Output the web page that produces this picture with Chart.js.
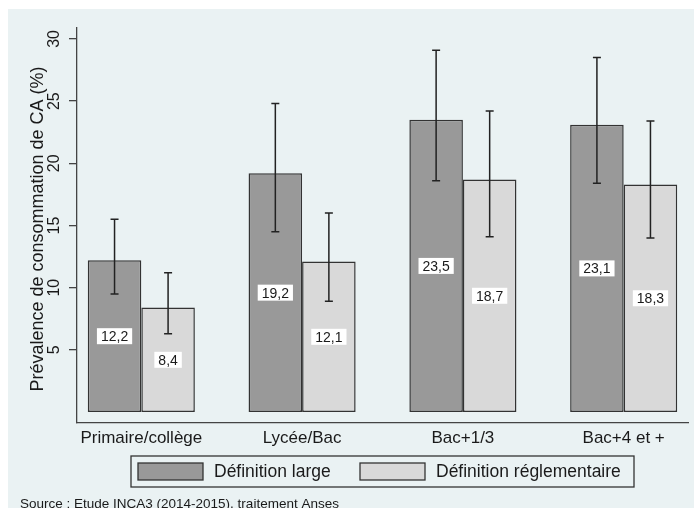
<!DOCTYPE html>
<html>
<head>
<meta charset="utf-8">
<script src="https://cdn.jsdelivr.net/npm/chart.js@4"></script>
<style>
  html, body { margin: 0; padding: 0; background: #fff; }
  #wrap { width: 694px; height: 508px; }
</style>
</head>
<body>
<div id="wrap"><canvas id="chart" width="694" height="508"></canvas></div>
<script>
// Données
const categories = ['Primaire/collège', 'Lycée/Bac', 'Bac+1/3', 'Bac+4 et +'];
const largeValues = [12.2, 19.2, 23.5, 23.1];
const largeLow = [9.5, 14.5, 18.6, 18.4];
const largeHigh = [15.5, 24.8, 29.1, 28.5];
const reglValues = [8.4, 12.1, 18.7, 18.3];
const reglLow = [6.3, 8.9, 14.1, 14.0];
const reglHigh = [11.2, 16.0, 24.2, 23.4];
const yTicks = [5, 10, 15, 20, 25, 30];
const seriesNames = ['Définition large', 'Définition réglementaire'];
const sourceText = 'Source : Etude INCA3 (2014-2015), traitement Anses';

const BG = '#eaf2f3';
const FONT = "'Liberation Sans', Arial, sans-serif";

const toPoints = vals => vals.map((v, i) => ({ x: i + 1, y: v }));

// Fond, barres d'erreur, étiquettes, légende
const decorPlugin = {
    id: 'decor',
    beforeDraw(chart) {
        const ctx = chart.ctx;
        ctx.save();
        ctx.fillStyle = '#fff';
        ctx.fillRect(0, 0, chart.width, chart.height);
        ctx.fillStyle = BG;
        ctx.fillRect(8, 9, chart.width - 8, chart.height - 9);
        ctx.restore();
    },
    afterDatasetsDraw(chart) {
        const ctx = chart.ctx;
        const y = chart.scales.y;
        const lows = [largeLow, reglLow];
        const highs = [largeHigh, reglHigh];
        ctx.save();
        // barres d'erreur
        chart.data.datasets.forEach((ds, d) => {
            chart.getDatasetMeta(d).data.forEach((bar, i) => {
                const yl = y.getPixelForValue(lows[d][i]);
                const yh = y.getPixelForValue(highs[d][i]);
                ctx.strokeStyle = '#222';
                ctx.lineWidth = 1.5;
                ctx.beginPath();
                ctx.moveTo(bar.x, yl); ctx.lineTo(bar.x, yh);
                ctx.moveTo(bar.x - 4, yl); ctx.lineTo(bar.x + 4, yl);
                ctx.moveTo(bar.x - 4, yh); ctx.lineTo(bar.x + 4, yh);
                ctx.stroke();
            });
        });
        // étiquettes de valeurs
        ctx.font = '14px ' + FONT;
        ctx.textAlign = 'center';
        ctx.textBaseline = 'middle';
        chart.data.datasets.forEach((ds, d) => {
            chart.getDatasetMeta(d).data.forEach((bar, i) => {
                const v = ds.data[i].y;
                const txt = v.toFixed(1).replace('.', ',');
                const cy = y.getPixelForValue(v / 2);
                const w = ctx.measureText(txt).width + 8;
                ctx.fillStyle = '#fff';
                ctx.fillRect(bar.x - w / 2, cy - 8, w, 16);
                ctx.fillStyle = '#1a1a1a';
                ctx.fillText(txt, bar.x, cy + 1);
            });
        });
        ctx.restore();
    },
    afterDraw(chart) {
        const ctx = chart.ctx;
        const y = chart.scales.y;
        ctx.save();
        // graduations de l'axe Y (texte vertical)
        ctx.fillStyle = '#1a1a1a';
        ctx.font = '16px ' + FONT;
        ctx.textAlign = 'center';
        ctx.textBaseline = 'middle';
        yTicks.forEach(t => {
            ctx.save();
            ctx.translate(55, y.getPixelForValue(t));
            ctx.rotate(-Math.PI / 2);
            ctx.fillText(String(t), 0, 0);
            ctx.restore();
        });
        // titre de l'axe Y
        ctx.save();
        ctx.font = '18px ' + FONT;
        ctx.translate(38, 229);
        ctx.rotate(-Math.PI / 2);
        ctx.fillText('Prévalence de consommation de CA (%)', 0, 0);
        ctx.restore();

        // légende encadrée
        ctx.strokeStyle = '#333';
        ctx.lineWidth = 1.3;
        ctx.fillStyle = BG;
        ctx.fillRect(131, 456, 503, 31);
        ctx.strokeRect(131, 456, 503, 31);
        const swX = [138, 360];
        ctx.font = '17.5px ' + FONT;
        ctx.textAlign = 'left';
        chart.data.datasets.forEach((ds, d) => {
            ctx.fillStyle = ds.backgroundColor;
            ctx.fillRect(swX[d], 463, 65, 17);
            ctx.strokeStyle = '#333';
            ctx.strokeRect(swX[d], 463, 65, 17);
            ctx.fillStyle = '#1a1a1a';
            ctx.fillText(seriesNames[d], swX[d] + 76, 472);
        });

        // source
        ctx.font = '13.5px ' + FONT;
        ctx.fillStyle = '#1a1a1a';
        ctx.textBaseline = 'alphabetic';
        ctx.fillText(sourceText, 20, 508);
        ctx.restore();
    }
};

const ctx = document.getElementById('chart').getContext('2d');
const chart = new Chart(ctx, {
    type: 'bar',
    data: {
        datasets: [
            {
                label: seriesNames[0],
                data: toPoints(largeValues),
                backgroundColor: '#999999',
                borderColor: '#333',
                borderWidth: 1.5,
                borderSkipped: false
            },
            {
                label: seriesNames[1],
                data: toPoints(reglValues),
                backgroundColor: '#d9d9d9',
                borderColor: '#333',
                borderWidth: 1.5,
                borderSkipped: false
            }
        ]
    },
    options: {
        responsive: false,
        animation: false,
        categoryPercentage: 0.666,
        barPercentage: 1,
        layout: { padding: { left: 0, top: 28, right: 6, bottom: 55 } },
        plugins: {
            legend: { display: false },
            tooltip: { enabled: false }
        },
        scales: {
            x: {
                type: 'linear',
                offset: false,
                min: 0.6,
                max: 4.4,
                afterBuildTicks: s => { s.ticks = categories.map((c, i) => ({ value: i + 1 })); },
                afterFit: s => { s.height = 30; },
                border: { display: true, color: '#444', width: 1.3 },
                grid: { display: false, drawTicks: false },
                ticks: {
                    callback: v => categories[v - 1],
                    color: '#1a1a1a',
                    font: { family: FONT, size: 17 },
                    padding: 5,
                    maxRotation: 0,
                    autoSkip: false
                }
            },
            y: {
                min: -0.88,
                max: 30.88,
                afterBuildTicks: s => { s.ticks = yTicks.map(v => ({ value: v })); },
                afterFit: s => { s.width = 77; },
                border: { display: true, color: '#444', width: 1.3 },
                grid: { drawOnChartArea: false, tickLength: 8, color: '#444', lineWidth: 1.3 },
                ticks: { display: false }
            }
        }
    },
    plugins: [decorPlugin]
});
</script>
</body>
</html>
